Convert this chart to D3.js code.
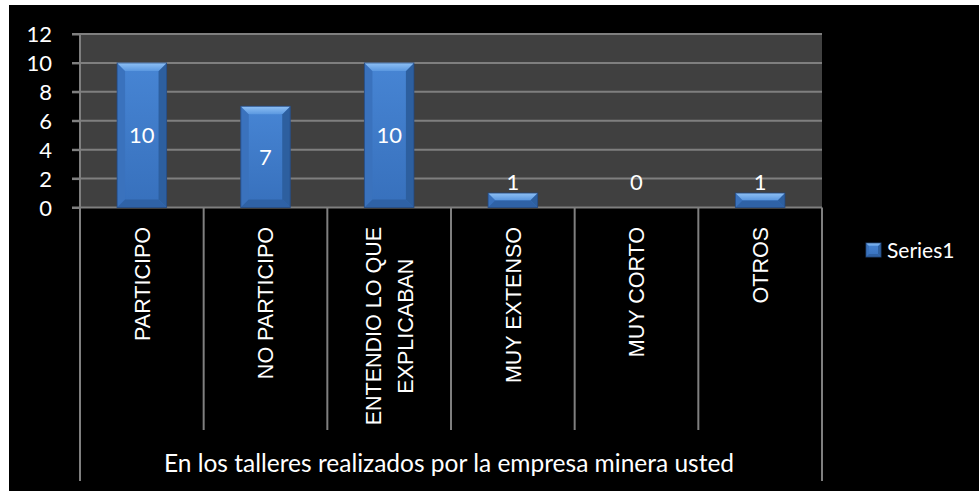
<!DOCTYPE html>
<html>
<head>
<meta charset="utf-8">
<script src="https://cdn.jsdelivr.net/npm/d3@7"></script>
<style>
  html, body { margin: 0; padding: 0; background: #ffffff; }
  svg { display: block; }
</style>
</head>
<body>
<svg id="chart" width="979" height="491"></svg>
<script>
// Survey answers about the mining company's workshops
const categories = ["PARTICIPO", "NO PARTICIPO", "ENTENDIO LO QUE EXPLICABAN", "MUY EXTENSO", "MUY CORTO", "OTROS"];
const categoryLines = [["PARTICIPO"], ["NO PARTICIPO"], ["ENTENDIO LO QUE", "EXPLICABAN"], ["MUY EXTENSO"], ["MUY CORTO"], ["OTROS"]];
const series1 = [10, 7, 10, 1, 0, 1];
const yTicks = [0, 2, 4, 6, 8, 10, 12];
const seriesName = "Series1";
const groupTitle = "En los talleres realizados por la empresa minera usted";

const svg = d3.select("#chart");
const W = 979, H = 491;

const plot = { left: 80, right: 822, top: 34, bottom: 207.5 };
const labelFont = "Lato, 'Open Sans', sans-serif";
const catFont = "'Liberation Sans', Arial, sans-serif";
const gridColor = "#7f7f7f";

// black chart area
svg.append("rect").attr("x", 9).attr("y", 5).attr("width", W - 9).attr("height", H - 5).attr("fill", "#000");

const y = d3.scaleLinear().domain([0, 12]).range([plot.bottom, plot.top]);
const x = d3.scaleBand().domain(categories).range([plot.left, plot.right]).paddingInner(0).paddingOuter(0);
const bw = x.bandwidth() * 0.4;

// plot background
svg.append("rect")
  .attr("x", plot.left).attr("y", plot.top)
  .attr("width", plot.right - plot.left).attr("height", plot.bottom - plot.top)
  .attr("fill", "#404040");

// gridlines
svg.append("g").selectAll("line").data(yTicks.filter(d => d > 0)).join("line")
  .attr("x1", plot.left - 8).attr("x2", plot.right)
  .attr("y1", d => y(d)).attr("y2", d => y(d))
  .attr("stroke", gridColor).attr("stroke-width", 2);

// value axis
const yAxis = d3.axisLeft(y).tickValues(yTicks).tickSize(8).tickPadding(20).tickFormat(d3.format("d"));
const gy = svg.append("g").attr("transform", `translate(${plot.left},0)`).call(yAxis);
gy.select(".domain").attr("stroke", gridColor).attr("stroke-width", 2).attr("d", `M-8,${plot.top}H0V${plot.bottom}`);
gy.selectAll(".tick line").attr("stroke", gridColor).attr("stroke-width", 2);
gy.selectAll(".tick text")
  .attr("fill", "#fff").attr("font-family", labelFont).attr("font-size", 22)
  .attr("dy", "0.36em");

// category axis baseline and dividers
svg.append("line")
  .attr("x1", plot.left - 8).attr("x2", plot.right)
  .attr("y1", plot.bottom).attr("y2", plot.bottom)
  .attr("stroke", gridColor).attr("stroke-width", 2);

const bounds = categories.map(c => x(c)).concat([plot.right]);
svg.append("g").selectAll("line").data(bounds).join("line")
  .attr("x1", d => d).attr("x2", d => d)
  .attr("y1", plot.bottom)
  .attr("y2", (d, i) => (i === 0 || i === bounds.length - 1) ? 481 : 430)
  .attr("stroke", gridColor).attr("stroke-width", 2);

// gradients for bar bevels
const defs = svg.append("defs");
const gTop = defs.append("linearGradient").attr("id", "bevTop").attr("x1", 0).attr("y1", 0).attr("x2", 0).attr("y2", 1);
gTop.append("stop").attr("offset", 0).attr("stop-color", "#8fc0f4");
gTop.append("stop").attr("offset", 1).attr("stop-color", "#5b98e0");
const gBody = defs.append("linearGradient").attr("id", "bevBody").attr("x1", 0).attr("y1", 0).attr("x2", 0).attr("y2", 1);
gBody.append("stop").attr("offset", 0).attr("stop-color", "#4785d4");
gBody.append("stop").attr("offset", 1).attr("stop-color", "#3770bc");

function bevelBar(g, x0, y0, w, h, b) {
  if (h <= 0) return;
  const bb = Math.min(b, h / 2, w / 2);
  const x1 = x0 + w, y1 = y0 + h;
  g.append("rect").attr("x", x0).attr("y", y0).attr("width", w).attr("height", h).attr("fill", "url(#bevBody)");
  // left edge
  g.append("path").attr("d", `M${x0},${y0}L${x0 + bb},${y0 + bb}L${x0 + bb},${y1 - bb}L${x0},${y1}Z`).attr("fill", "#3a72bd");
  // right edge
  g.append("path").attr("d", `M${x1},${y0}L${x1 - bb},${y0 + bb}L${x1 - bb},${y1 - bb}L${x1},${y1}Z`).attr("fill", "#2d5f9f");
  // bottom edge
  g.append("path").attr("d", `M${x0},${y1}L${x0 + bb},${y1 - bb}L${x1 - bb},${y1 - bb}L${x1},${y1}Z`).attr("fill", "#2f62a6");
  // top bevel
  g.append("path").attr("d", `M${x0},${y0}L${x1},${y0}L${x1 - bb},${y0 + bb}L${x0 + bb},${y0 + bb}Z`).attr("fill", "url(#bevTop)");
  g.append("rect").attr("x", x0).attr("y", y0).attr("width", w).attr("height", h)
    .attr("fill", "none").attr("stroke", "#24497e").attr("stroke-width", 1).attr("stroke-opacity", 0.8);
}

const bars = svg.append("g");
categories.forEach((c, i) => {
  const v = series1[i];
  const bx = x(c) + (x.bandwidth() - bw) / 2;
  bevelBar(bars, bx, y(v), bw, y(0) - y(v), 8);
});

// data labels
svg.append("g").selectAll("text").data(categories).join("text")
  .attr("x", c => x(c) + x.bandwidth() / 2)
  .attr("y", (c, i) => Math.min((y(series1[i]) + y(0)) / 2, y(0) - 25))
  .attr("dy", "0.36em")
  .attr("text-anchor", "middle")
  .attr("fill", "#fff").attr("font-family", labelFont).attr("font-size", 22)
  .text((c, i) => series1[i]);

// rotated category labels
const catFs = 21.5, lineGap = 31.5, labelTop = 227;
const cats = svg.append("g");
categories.forEach((c, i) => {
  const lines = categoryLines[i];
  const g = cats.append("g").attr("transform", `translate(${x(c) + x.bandwidth() / 2},${labelTop}) rotate(-90)`);
  const texts = lines.map((ln, k) => g.append("text")
    .attr("y", (k - (lines.length - 1) / 2) * lineGap)
    .attr("dy", "0.36em")
    .attr("text-anchor", "middle")
    .attr("fill", "#fff").attr("font-family", catFont).attr("font-size", catFs)
    .text(ln));
  const maxLen = d3.max(texts, t => t.node().getComputedTextLength());
  texts.forEach(t => t.attr("x", -maxLen / 2));
});

// group title under categories
svg.append("text")
  .attr("x", (plot.left + plot.right) / 2 - 2).attr("y", 472)
  .attr("text-anchor", "middle")
  .attr("fill", "#fff").attr("font-family", labelFont).attr("font-size", 24.5)
  .text(groupTitle);

// legend
const lg = svg.append("g");
bevelBar(lg, 866, 243, 15, 14, 3);
lg.append("text").attr("x", 887).attr("y", 250).attr("dy", "0.36em")
  .attr("fill", "#fff").attr("font-family", labelFont).attr("font-size", 21)
  .text(seriesName);
</script>
</body>
</html>
